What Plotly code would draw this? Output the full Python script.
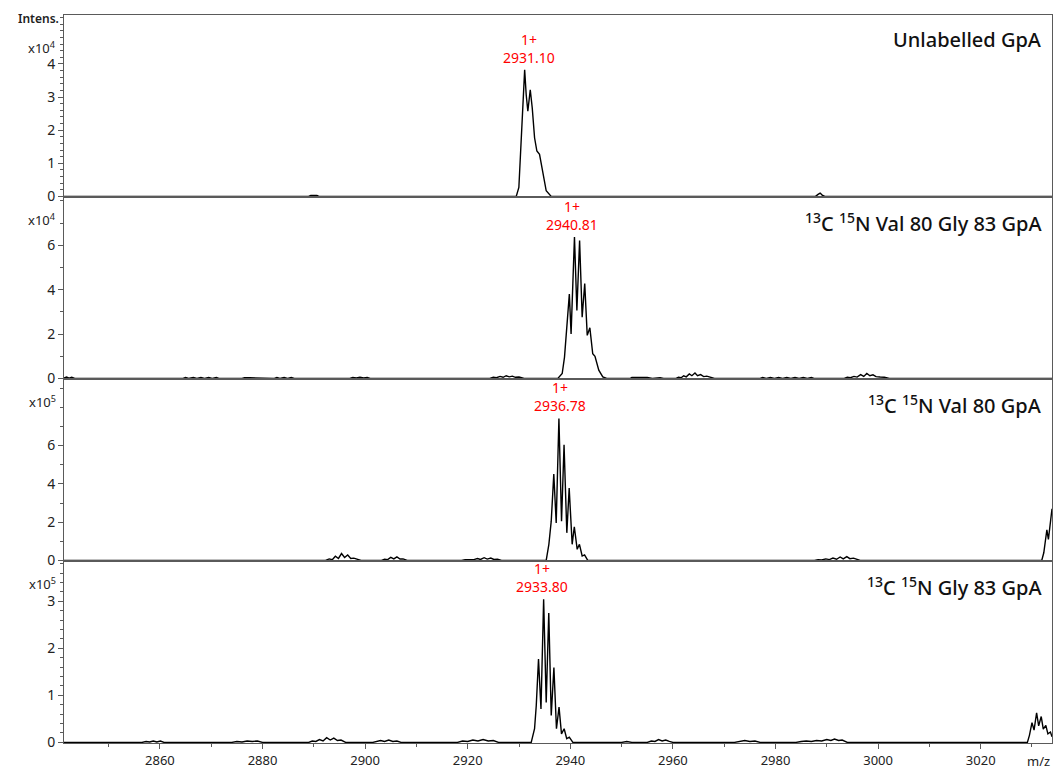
import plotly.graph_objects as go
from plotly.subplots import make_subplots

# ---- spectra (m/z, intensity in units of the panel's exponent) ----
mz_unlab = [2841.3, 2889.0, 2889.4, 2890.6, 2891.0,
            2929.46, 2929.97, 2930.44, 2930.75, 2931.10, 2931.4, 2931.72, 2932.19, 2932.58,
            2933.03, 2933.48, 2934.0, 2934.65, 2935.3, 2936.28,
            2987.8, 2988.3, 2988.7, 2989.1, 2989.6, 3033.9]
int_unlab = [0, 0, 0.03, 0.03, 0,
             0, 0.27, 1.87, 3.07, 3.82, 3.07, 2.57, 3.22, 2.67,
             1.77, 1.37, 1.27, 0.67, 0.17, 0,
             0, 0.06, 0.1, 0.04, 0, 0]

mz_valgly = [2841.3, 2841.8, 2842.3, 2842.8, 2843.4,
             2864.5, 2865.0, 2865.6, 2866.5, 2867.2, 2868.0, 2868.7, 2869.5, 2870.2, 2871.0, 2871.5,
             2876.0, 2876.5, 2877.5, 2878.5, 2879.0,
             2882.3, 2882.8, 2883.4, 2884.2, 2884.9, 2885.6, 2886.2,
             2897.0, 2897.6, 2898.3, 2899.0, 2899.7, 2900.4, 2901.0,
             2924.3, 2925.0, 2925.6, 2926.3, 2926.9, 2927.5, 2928.1, 2928.7, 2929.3, 2930.0, 2931.0,
             2937.57, 2938.42, 2938.87, 2939.32, 2939.81, 2940.15, 2940.49, 2940.81, 2941.28,
             2941.81, 2942.31, 2942.81, 2943.3, 2943.81, 2944.37, 2944.81, 2945.55, 2946.33, 2947.1,
             2951.7, 2952.0, 2953.0, 2954.0, 2955.0, 2956.0, 2957.5, 2958.2,
             2960.6, 2961.1, 2961.6, 2962.1, 2962.6, 2963.2, 2963.7, 2964.3, 2964.8, 2965.4, 2966.0,
             2966.6, 2967.3, 2968.1,
             2977.0, 2977.5, 2978.2, 2979.0, 2979.8, 2980.6, 2981.4, 2982.2, 2983.0, 2983.8, 2984.6,
             2985.4, 2986.2, 2987.0, 2987.5,
             2993.4, 2994.0, 2994.6, 2995.3, 2995.9, 2996.6, 2997.2, 2997.8, 2998.4, 2999.0, 2999.6,
             3000.4, 3001.2, 3002.2, 3033.9]
int_valgly = [0.02, 0.06, 0.01, 0.05, 0,
              0, 0.04, 0, 0.04, 0, 0.04, 0, 0.04, 0, 0.04, 0,
              0, 0.03, 0.03, 0.03, 0,
              0, 0.04, 0, 0.04, 0, 0.04, 0,
              0, 0.04, 0.02, 0.05, 0.02, 0.04, 0,
              0, 0.05, 0.03, 0.09, 0.05, 0.12, 0.07, 0.1, 0.05, 0.06, 0,
              0, 0.22, 0.96, 2.46, 3.8, 2.0, 4.4, 6.38, 3.06,
              6.22, 2.76, 4.28, 1.94, 2.28, 1.11, 1.0, 0.37, 0.07, 0,
              0, 0.04, 0.04, 0.04, 0.04, 0, 0.03, 0,
              0, 0.05, 0.03, 0.12, 0.07, 0.2, 0.12, 0.24, 0.12, 0.17, 0.08,
              0.1, 0.05, 0,
              0, 0.04, 0, 0.04, 0, 0.04, 0, 0.04, 0, 0.04, 0,
              0.04, 0, 0.04, 0,
              0, 0.05, 0.03, 0.09, 0.06, 0.17, 0.09, 0.22, 0.12, 0.16, 0.08,
              0.06, 0.05, 0, 0]

mz_val = [2841.3, 2892.3, 2893.0, 2893.6, 2894.2, 2894.8, 2895.4, 2896.0, 2896.6, 2897.2, 2897.8,
          2898.6, 2899.2,
          2903.2, 2903.8, 2904.4, 2905.0, 2905.6, 2906.2, 2906.8, 2907.4, 2908.2,
          2918.8, 2919.5, 2920.5, 2921.2, 2921.9, 2922.5, 2923.2, 2923.8, 2924.5, 2925.1, 2925.8,
          2926.6,
          2935.3, 2935.82, 2936.28, 2936.78, 2937.25, 2937.78, 2938.29, 2938.78, 2939.32, 2939.78,
          2940.36, 2940.78, 2941.34, 2941.78, 2942.31, 2942.78, 2943.4,
          2987.6, 2988.3, 2989.0, 2989.8, 2990.5, 2991.2, 2991.9, 2992.6, 2993.2, 2993.9, 2994.5,
          2995.2, 2995.8, 2996.5,
          3031.9, 3032.3, 3032.6, 3032.9, 3033.2, 3033.6, 3033.9]
int_val = [0, 0, 0.08, 0.04, 0.22, 0.1, 0.36, 0.15, 0.28, 0.1, 0.12,
           0.03, 0,
           0, 0.06, 0.04, 0.16, 0.08, 0.18, 0.07, 0.08, 0,
           0, 0.04, 0.06, 0.04, 0.1, 0.05, 0.14, 0.07, 0.12, 0.05, 0.06,
           0,
           0, 0.84, 2.05, 4.51, 1.96, 7.42, 2.05, 6.04, 1.44, 3.78,
           0.84, 1.76, 0.58, 0.84, 0.23, 0.29, 0,
           0, 0.04, 0.02, 0.08, 0.04, 0.12, 0.06, 0.18, 0.08, 0.2, 0.09,
           0.12, 0.05, 0,
           0, 0.4, 1.0, 1.6, 1.1, 2.1, 2.7]

mz_gly = [2841.3, 2856.5, 2857.3, 2858.0, 2858.7, 2859.4, 2860.1, 2860.8,
          2874.0, 2875.0, 2876.0, 2877.0, 2878.0, 2879.0, 2880.0,
          2889.0, 2889.7, 2890.4, 2891.1, 2891.8, 2892.5, 2893.2, 2893.9, 2894.6, 2895.3, 2896.2,
          2901.5, 2902.2, 2903.0, 2903.8, 2904.6, 2905.4, 2906.2, 2907.0,
          2918.0, 2919.0, 2920.0, 2921.0, 2922.0, 2923.0, 2924.0, 2925.0, 2926.0,
          2932.38, 2933.03, 2933.36, 2933.80, 2934.28, 2934.80, 2935.3, 2935.8, 2936.28, 2936.8,
          2937.3, 2937.8, 2938.28, 2938.8, 2939.3, 2939.8, 2940.5,
          2950.0, 2951.0, 2952.0,
          2955.0, 2955.8, 2956.5, 2957.2, 2957.9, 2958.6, 2959.3, 2960.0,
          2972.0, 2973.0, 2974.0, 2975.0, 2976.0, 2977.0,
          2984.0, 2985.0, 2986.0, 2987.0, 2988.0, 2989.0, 2990.0, 2990.8, 2991.5, 2992.3, 2993.0,
          2994.0,
          3029.1, 3029.5, 3030.0, 3030.4, 3030.9, 3031.3, 3031.8, 3032.2, 3032.7, 3033.1, 3033.6,
          3033.9]
int_gly = [0, 0, 0.02, 0.01, 0.03, 0.01, 0.03, 0,
           0, 0.02, 0.01, 0.03, 0.02, 0.03, 0,
           0, 0.03, 0.02, 0.06, 0.03, 0.1, 0.05, 0.09, 0.04, 0.05, 0,
           0, 0.02, 0.04, 0.02, 0.05, 0.02, 0.03, 0,
           0, 0.03, 0.02, 0.05, 0.03, 0.06, 0.03, 0.04, 0,
           0, 0.29, 0.78, 1.77, 0.71, 3.04, 0.85, 2.75, 0.57, 1.59,
           0.29, 0.75, 0.18, 0.29, 0.08, 0.11, 0,
           0, 0.02, 0,
           0, 0.03, 0.02, 0.06, 0.03, 0.05, 0.02, 0,
           0, 0.02, 0.04, 0.02, 0.03, 0,
           0, 0.02, 0.03, 0.02, 0.04, 0.03, 0.06, 0.04, 0.07, 0.04, 0.05,
           0,
           0, 0.15, 0.42, 0.26, 0.63, 0.35, 0.55, 0.28, 0.36, 0.18, 0.22,
           0.12]

panel_titles = ["Unlabelled GpA",
                "<sup>13</sup>C <sup>15</sup>N Val 80 Gly 83 GpA",
                "<sup>13</sup>C <sup>15</sup>N Val 80 GpA",
                "<sup>13</sup>C <sup>15</sup>N Gly 83 GpA"]
exponents = [4, 4, 5, 5]
charges = ["1+", "1+", "1+", "1+"]
label_mz = [2931.10, 2940.81, 2936.78, 2933.80]

x_ticks = [2860, 2880, 2900, 2920, 2940, 2960, 2980, 3000, 3020]
y_ticks = [[0, 1, 2, 3, 4], [0, 2, 4, 6], [0, 2, 4, 6], [0, 1, 2, 3]]

spectra = [(mz_unlab, int_unlab), (mz_valgly, int_valgly), (mz_val, int_val), (mz_gly, int_gly)]

# ---- styling ----
FONT = "Noto Sans"
AX = "#5a5a5a"
y_ranges = [[-0.018, 5.477], [-0.027, 8.18], [-0.031, 9.48], [-0.013, 3.856]]
y_minor = [0.2, 1, 1, 0.2]
label_xshift = [4, -2, 6, 3]

fig = make_subplots(rows=4, cols=1, shared_xaxes=True, vertical_spacing=0)

for i, (mz, inten) in enumerate(spectra, start=1):
    fig.add_trace(go.Scatter(x=mz, y=inten, mode="lines",
                             line=dict(color="black", width=1.4),
                             hoverinfo="skip", showlegend=False), row=i, col=1)

    fig.update_yaxes(row=i, col=1, range=y_ranges[i - 1], tickmode="array",
                     tickvals=y_ticks[i - 1], ticktext=[str(v) for v in y_ticks[i - 1]],
                     ticks="outside", ticklen=5, tickwidth=1, tickcolor=AX,
                     minor=dict(dtick=y_minor[i - 1], tick0=0, ticks="outside",
                                ticklen=3, tickwidth=1, tickcolor=AX),
                     showline=True, mirror=True, linecolor=AX, linewidth=1,
                     showgrid=False, zeroline=False,
                     tickfont=dict(family=FONT, size=14, color="#222"))

    fig.update_xaxes(row=i, col=1, range=[2841.3, 3033.9], showline=True, mirror=True,
                     linecolor=AX, linewidth=1, showgrid=False, zeroline=False,
                     ticks="outside" if i == 4 else "",
                     tickvals=x_ticks, ticklen=5, tickwidth=1, tickcolor=AX,
                     minor=dict(dtick=10, tick0=2840, ticks="outside" if i == 4 else "",
                                ticklen=3, tickwidth=1, tickcolor=AX),
                     showticklabels=(i == 4),
                     tickfont=dict(family=FONT, size=13, color="#222"))

    ysuffix = "" if i == 1 else str(i)
    xsuffix = "" if i == 1 else str(i)

    # panel title
    fig.add_annotation(text=panel_titles[i - 1], xref=f"x{xsuffix} domain", yref=f"y{ysuffix} domain",
                       x=1, y=1, xanchor="right", yanchor="top", xshift=-8, yshift=-9,
                       showarrow=False, font=dict(family=FONT, size=20, color="#111", weight=500))

    # intensity exponent
    fig.add_annotation(text=f"x10<sup>{exponents[i - 1]}</sup>", xref="paper",
                       yref=f"y{ysuffix} domain", x=0, y=1, xanchor="right", yanchor="middle",
                       xshift=-6, yshift=-(32 if i == 1 else 22),
                       showarrow=False, font=dict(family=FONT, size=13, color="#222"))

    # charge / m/z label on the main isotope cluster
    top = max(v for m, v in zip(mz, inten) if abs(m - label_mz[i - 1]) < 5)
    fig.add_annotation(text=f"{charges[i - 1]}<br>{label_mz[i - 1]:.2f}",
                       xref=f"x{xsuffix}", yref=f"y{ysuffix}",
                       x=label_mz[i - 1], y=top, xanchor="center", yanchor="bottom",
                       xshift=label_xshift[i - 1], yshift=1, showarrow=False,
                       font=dict(family=FONT, size=14, color="#ff0000"))

fig.add_annotation(text="Intens.", xref="paper", yref="paper", x=0, y=1,
                   xanchor="right", yanchor="middle", xshift=-3, yshift=-3,
                   showarrow=False, font=dict(family=FONT, size=12, color="#222", weight=600))
fig.add_annotation(text="m/z", xref="paper", yref="paper", x=1, y=0,
                   xanchor="right", yanchor="top", xshift=0, yshift=-7,
                   showarrow=False, font=dict(family=FONT, size=13, color="#222"))

fig.update_layout(width=1058, height=774, margin=dict(l=64, r=5, t=15, b=27),
                  paper_bgcolor="white", plot_bgcolor="white",
                  font=dict(family=FONT, color="#222"))

fig.write_html("out.html")
